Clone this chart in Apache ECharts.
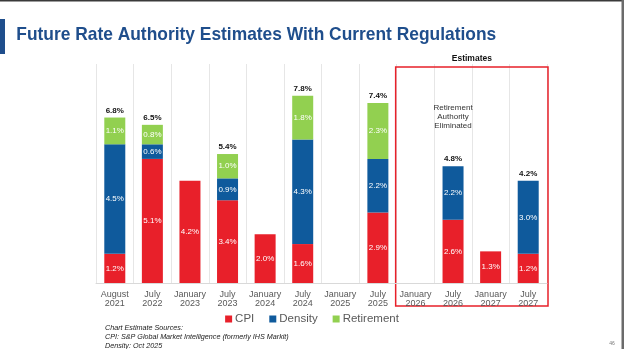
<!DOCTYPE html>
<html>
<head>
<meta charset="utf-8">
<script src="https://cdn.jsdelivr.net/npm/echarts@6/dist/echarts.min.js"></script>
<style>
html,body{margin:0;padding:0;background:#fff;}
#c{width:624px;height:349px;}
</style>
</head>
<body>
<div id="c"></div>
<script>
const categories = ['August\n2021','July\n2022','January\n2023','July\n2023','January\n2024','July\n2024','January\n2025','July\n2025','January\n2026','July\n2026','January\n2027','July\n2027'];
const cpi        = [1.2, 5.1, 4.2, 3.4, 2.0, 1.6, null, 2.9, null, 2.6, 1.3, 1.2];
const density    = [4.5, 0.6, null, 0.9, null, 4.3, null, 2.2, null, 2.2, null, 3.0];
const retirement = [1.1, 0.8, null, 1.0, null, 1.8, null, 2.3, null, null, null, null];
const totals     = [6.8, 6.5, null, 5.4, null, 7.8, null, 7.4, null, 4.8, null, 4.2];

const font = 'Liberation Sans, Arial, sans-serif';
const chart = echarts.init(document.getElementById('c'), null, {renderer:'canvas'});

const inLabel = {show:true, position:'inside', color:'#fff', fontSize:8, fontFamily:font,
  formatter: p => (p.value == null ? '' : p.value.toFixed(1) + '%')};

chart.setOption({
  animation:false,
  textStyle:{fontFamily:font},
  grid:{left:96, right:77, top:64, bottom:66},
  xAxis:{
    type:'category', data:categories,
    axisTick:{show:false},
    axisLine:{lineStyle:{color:'#d9d9d9', width:1}},
    splitLine:{show:true, interval:0, lineStyle:{color:'#e6e6e6', width:1}},
    axisLabel:{interval:0, color:'#595959', fontSize:9, lineHeight:9, margin:7, fontFamily:font}
  },
  yAxis:{type:'value', min:0, max:9, show:false, splitLine:{show:false}},
  legend:{
    data:['CPI','Density','Retirement'],
    bottom:19, left:'center', icon:'rect', itemWidth:7, itemHeight:7, itemGap:15,
    textStyle:{color:'#595959', fontSize:11.5, fontFamily:font, padding:[0,0,0,-2]}
  },
  series:[
    {name:'CPI', type:'bar', stack:'s', data:cpi, barWidth:21, itemStyle:{color:'#E8202A'}, label:inLabel},
    {name:'Density', type:'bar', stack:'s', data:density, barWidth:21, itemStyle:{color:'#0F5A9C'}, label:inLabel},
    {name:'Retirement', type:'bar', stack:'s', data:retirement, barWidth:21, itemStyle:{color:'#92D050'}, label:inLabel},
    {name:'Total', type:'bar', stack:'s', barWidth:21, silent:true,
     data: totals.map(t => t == null ? null : {value:0, total:t}),
     itemStyle:{color:'transparent'},
     label:{show:true, position:'top', distance:3, color:'#111', fontSize:8, fontWeight:'bold', fontFamily:font,
       formatter: p => { const t = totals[p.dataIndex]; return t == null ? '' : t.toFixed(1) + '%'; }}}
  ]
});

// decorations positioned from the chart's own scales
const xL = chart.convertToPixel({xAxisIndex:0}, 'January\n2026');
const xR = chart.convertToPixel({xAxisIndex:0}, 'July\n2027');
const xAnn = chart.convertToPixel({xAxisIndex:0}, 'July\n2026');
const half = (xR - xL) / 3 / 2;
const boxL = xL - half - 1, boxR = xR + half + 1;

chart.setOption({
  graphic:[
    {type:'rect', shape:{x:0,y:0,width:624,height:1.5}, style:{fill:'#3a3a3a'}},
    {type:'rect', shape:{x:621.5,y:0,width:2.5,height:349}, style:{fill:'#6b6b6b'}},
    {type:'rect', shape:{x:0,y:19,width:5,height:35}, style:{fill:'#1F4E8C'}},
    {type:'text', x:15, y:35, scaleX:0.915, originX:15, originY:35,
      style:{text:'Future Rate Authority Estimates With Current Regulations',
      fill:'#1F4E8C', font:'bold 19px '+font, verticalAlign:'middle'}},
    {type:'rect', shape:{x:boxL, y:67, width:boxR-boxL, height:239}, style:{fill:'none', stroke:'#E8202A', lineWidth:1.5}},
    {type:'text', x:(boxL+boxR)/2, y:59, style:{text:'Estimates', fill:'#111', font:'bold 8.5px '+font, align:'center', verticalAlign:'middle'}},
    {type:'text', x:xAnn, y:117, style:{text:'Retirement\nAuthority\nEliminated', fill:'#333', font:'8px '+font, lineHeight:9, align:'center', verticalAlign:'middle'}},
    {type:'text', x:105, y:336.5, style:{text:'Chart Estimate Sources:\nCPI: S&P Global Market Intelligence (formerly IHS Markit)\nDensity: Oct 2025',
      fill:'#222', font:'italic 7.2px '+font, lineHeight:9, verticalAlign:'middle'}},
    {type:'text', x:612, y:344, style:{text:'46', fill:'#777', font:'5px '+font, align:'center', verticalAlign:'middle'}}
  ]
});
</script>
</body>
</html>
